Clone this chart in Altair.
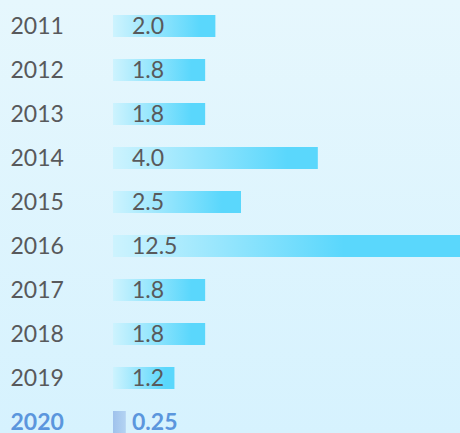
import altair as alt
import pandas as pd

years = ["2011", "2012", "2013", "2014", "2015", "2016", "2017", "2018", "2019", "2020"]
values = [2.0, 1.8, 1.8, 4.0, 2.5, 12.5, 1.8, 1.8, 1.2, 0.25]
labels = ["2.0", "1.8", "1.8", "4.0", "2.5", "12.5", "1.8", "1.8", "1.2", "0.25"]
kinds = ["past", "past", "past", "past", "past", "long", "past", "past", "past", "current"]

df = pd.DataFrame({"year": years, "value": values, "label": labels, "kind": kinds})

FONT = "Lato"
GREY = "#58595B"
BLUE = "#5B96DD"

y_enc = alt.Y(
    "year:N",
    sort=years,
    scale=alt.Scale(domain=years, range=[4, 444], paddingInner=0.5, paddingOuter=0.25),
    axis=alt.Axis(
        title=None, domain=False, ticks=False, grid=False, zindex=1,
        labelAlign="left", labelBaseline="middle", labelPadding=0, offset=-10,
        labelFont=FONT, labelFontSize=23, labelOffset=1,
        labelColor=alt.ExprRef(expr=f"datum.value == '2020' ? '{BLUE}' : '{GREY}'"),
        labelFontWeight=alt.ExprRef(expr="datum.value == '2020' ? 'bold' : 'normal'"),
    ),
)
x_scale = alt.Scale(domain=[0, 12.5], range=[113, 753], nice=False, zero=True)
x_enc = alt.X("value:Q", scale=x_scale, axis=None)

def grad(stops, horizontal=True):
    return alt.LinearGradient(
        gradient="linear",
        stops=[alt.GradientStop(offset=o, color=c) for o, c in stops],
        x1=0, x2=1 if horizontal else 0, y1=0, y2=0 if horizontal else 1,
    )

bg = alt.Chart(alt.Data(values=[{"k": 1}])).mark_rect(
    color=grad([(0, "#E6F7FD"), (1, "#D6F2FE")], horizontal=False)
).encode(opacity=alt.value(1))

base = alt.Chart(df)

bars = base.transform_filter("datum.kind == 'past'").mark_bar(
    clip=True, color=grad([(0, "#CDF3FE"), (0.85, "#5AD7FC"), (1, "#5AD7FC")])
).encode(x=x_enc, y=y_enc)

long_bar = base.transform_filter("datum.kind == 'long'").mark_bar(
    clip=True, color=grad([(0, "#CDF3FE"), (0.36, "#5AD7FC"), (1, "#5AD7FC")])
).encode(x=x_enc, y=y_enc)

cur_bar = base.transform_filter("datum.kind == 'current'").mark_bar(
    clip=True, color=grad([(0, "#9FC2EC"), (1, "#B3D3F2")])
).encode(x=x_enc, y=y_enc)

txt = base.transform_filter("datum.kind != 'current'").mark_text(
    align="left", baseline="middle", dx=19, dy=1, font=FONT, fontSize=23, color=GREY
).encode(x=alt.datum(0, scale=x_scale), y=y_enc, text="label:N")

cur_txt = base.transform_filter("datum.kind == 'current'").mark_text(
    align="left", baseline="middle", dx=19, dy=1, font=FONT, fontSize=23, fontWeight="bold", color=BLUE
).encode(x=alt.datum(0, scale=x_scale), y=y_enc, text="label:N")

chart = alt.layer(bg, bars, long_bar, cur_bar, txt, cur_txt).properties(
    width=460, height=433, padding=0, autosize=alt.AutoSizeParams(type="none"),
    background="#DEF5FE",
).configure_view(strokeWidth=0)

chart.save("out.html", embed_options={"renderer": "svg", "actions": False})
